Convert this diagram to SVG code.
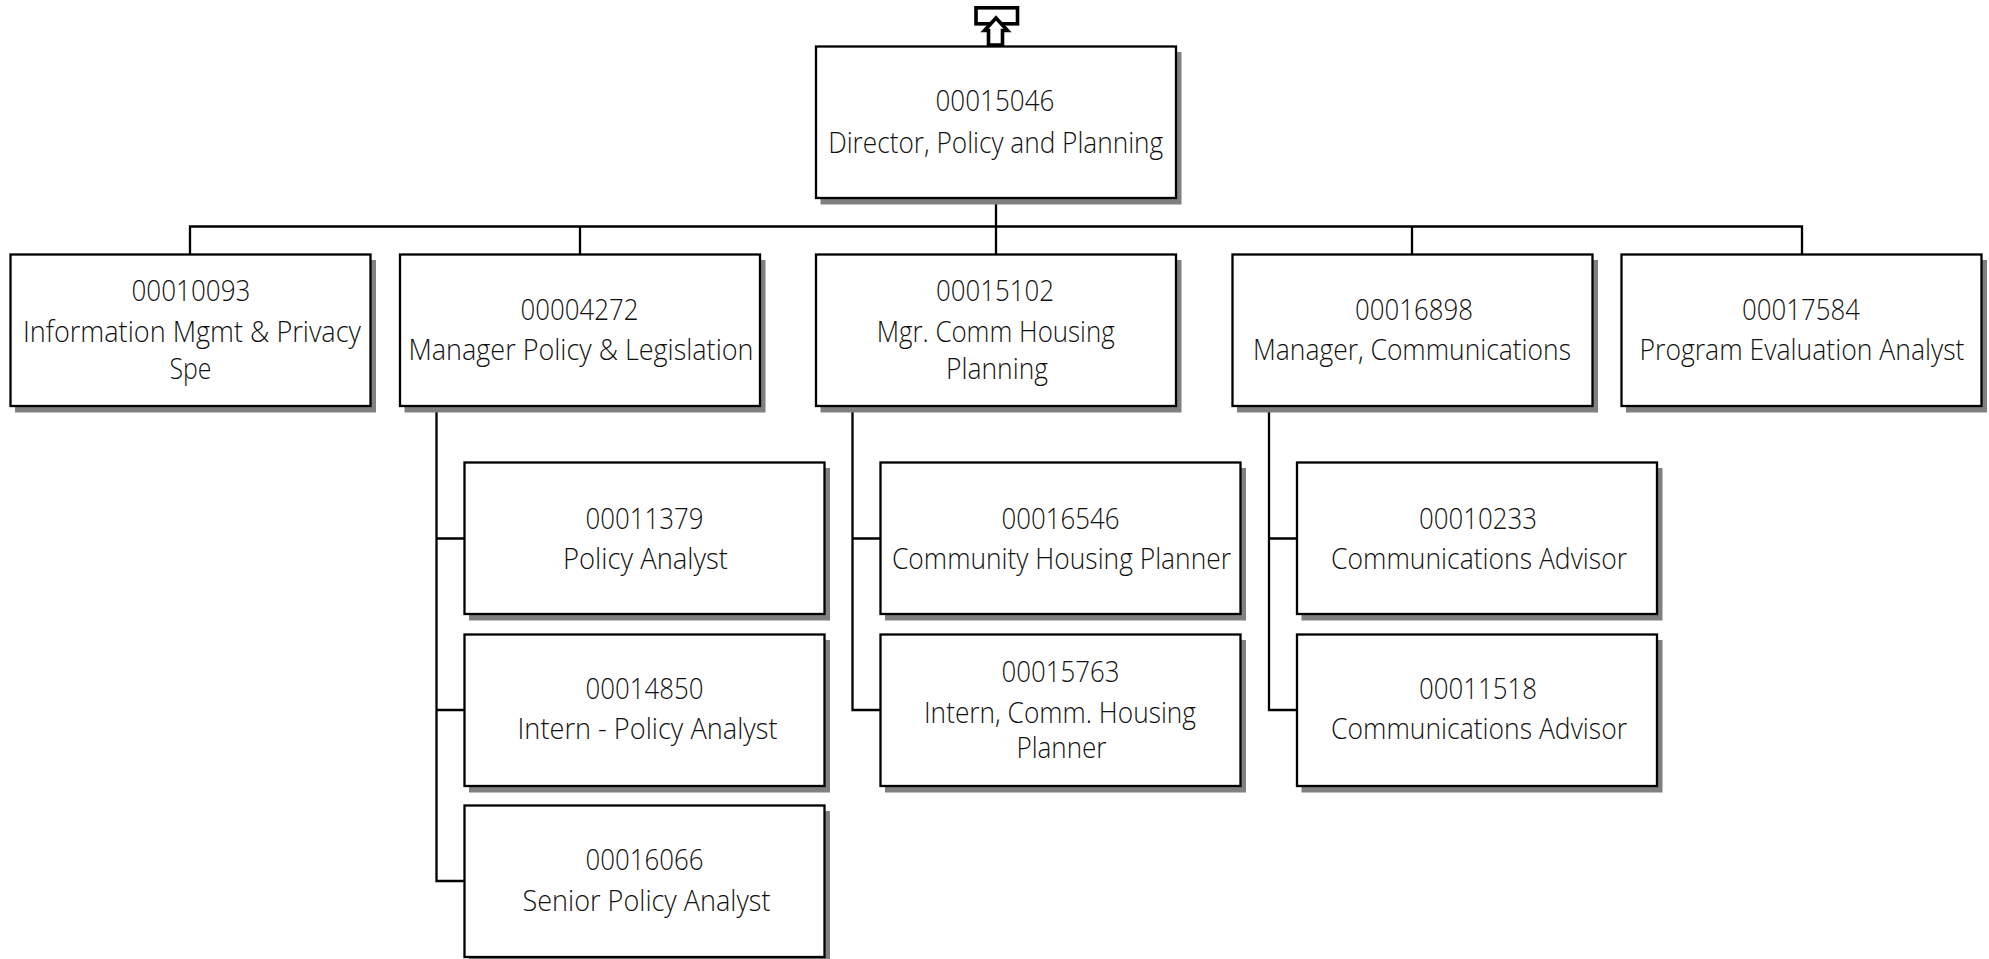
<svg xmlns="http://www.w3.org/2000/svg" width="1989" height="959" viewBox="0 0 1989 959">
<style>
.s{fill:#808080}
.b{fill:#fff;stroke:#000;stroke-width:2.300}
.c{fill:none;stroke:#000;stroke-width:2.300}
text{font-family:"Open Sans","Noto Sans","Liberation Sans",sans-serif;font-weight:300;font-size:30px;fill:#111;text-anchor:middle}
</style>
<defs>
<g id="box"><rect class="s" x="5" y="6" width="361" height="152.500"/><rect class="b" x="0.500" y="0.500" width="360" height="151.500"/></g>
</defs>
<rect width="1989" height="959" fill="#fff"/>
<g id="connectors">
<path class="c" d="M996 198V254M190 254V226.500H1802V254M580 226.500V254M1412 226.500V254"/>
<path class="c" d="M436.500 406V881H464M436.500 538.500H464M436.500 710H464"/>
<path class="c" d="M852.500 406V710H880M852.500 538.500H880"/>
<path class="c" d="M1269 406V710H1296M1269 538.500H1296"/>
</g>
<g id="up-link">
<rect x="976" y="7.800" width="41.500" height="16" fill="#fff" stroke="#000" stroke-width="3.600"/>
<path d="M996 18L1007.500 30.500H1002.500V45H988.500V30.500H984.500Z" fill="#fff" stroke="#000" stroke-width="3.600"/>
</g>
<g id="n00015046"><use href="#box" x="815.500" y="46"/><text x="995" y="111" textLength="119" lengthAdjust="spacingAndGlyphs">00015046</text><text x="995.700" y="153" textLength="335" lengthAdjust="spacingAndGlyphs">Director, Policy and Planning</text></g>
<g id="n00010093"><use href="#box" x="10" y="254"/><text x="191" y="301" textLength="119" lengthAdjust="spacingAndGlyphs">00010093</text><text x="192" y="342" textLength="338" lengthAdjust="spacingAndGlyphs">Information Mgmt &amp; Privacy</text><text x="190.500" y="378.500" textLength="42" lengthAdjust="spacingAndGlyphs">Spe</text></g>
<g id="n00004272"><use href="#box" x="399.500" y="254"/><text x="579.600" y="320" textLength="118" lengthAdjust="spacingAndGlyphs">00004272</text><text x="581" y="360" textLength="345" lengthAdjust="spacingAndGlyphs">Manager Policy &amp; Legislation</text></g>
<g id="n00015102"><use href="#box" x="815.500" y="254"/><text x="995" y="301" textLength="118" lengthAdjust="spacingAndGlyphs">00015102</text><text x="995.700" y="342" textLength="238" lengthAdjust="spacingAndGlyphs">Mgr. Comm Housing</text><text x="997" y="379" textLength="102" lengthAdjust="spacingAndGlyphs">Planning</text></g>
<g id="n00016898"><use href="#box" x="1232" y="254"/><text x="1414" y="320" textLength="118" lengthAdjust="spacingAndGlyphs">00016898</text><text x="1412" y="360" textLength="318" lengthAdjust="spacingAndGlyphs">Manager, Communications</text></g>
<g id="n00017584"><use href="#box" x="1621" y="254"/><text x="1801" y="320" textLength="118" lengthAdjust="spacingAndGlyphs">00017584</text><text x="1802" y="360" textLength="325" lengthAdjust="spacingAndGlyphs">Program Evaluation Analyst</text></g>
<g id="n00011379"><use href="#box" x="464" y="462"/><text x="644.500" y="529" textLength="118" lengthAdjust="spacingAndGlyphs">00011379</text><text x="645.500" y="569" textLength="165" lengthAdjust="spacingAndGlyphs">Policy Analyst</text></g>
<g id="n00014850"><use href="#box" x="464" y="634"/><text x="644.500" y="699" textLength="118" lengthAdjust="spacingAndGlyphs">00014850</text><text x="647.500" y="739" textLength="260" lengthAdjust="spacingAndGlyphs">Intern - Policy Analyst</text></g>
<g id="n00016066"><use href="#box" x="464" y="805"/><text x="644.500" y="870" textLength="118" lengthAdjust="spacingAndGlyphs">00016066</text><text x="646.500" y="910.500" textLength="248" lengthAdjust="spacingAndGlyphs">Senior Policy Analyst</text></g>
<g id="n00016546"><use href="#box" x="880" y="462"/><text x="1060.500" y="529" textLength="118" lengthAdjust="spacingAndGlyphs">00016546</text><text x="1061.500" y="569" textLength="339" lengthAdjust="spacingAndGlyphs">Community Housing Planner</text></g>
<g id="n00015763"><use href="#box" x="880" y="634"/><text x="1060.500" y="682" textLength="118" lengthAdjust="spacingAndGlyphs">00015763</text><text x="1060" y="723" textLength="272" lengthAdjust="spacingAndGlyphs">Intern, Comm. Housing</text><text x="1061.500" y="758" textLength="90" lengthAdjust="spacingAndGlyphs">Planner</text></g>
<g id="n00010233"><use href="#box" x="1296.500" y="462"/><text x="1478" y="529" textLength="118" lengthAdjust="spacingAndGlyphs">00010233</text><text x="1479" y="569" textLength="296" lengthAdjust="spacingAndGlyphs">Communications Advisor</text></g>
<g id="n00011518"><use href="#box" x="1296.500" y="634"/><text x="1478" y="699" textLength="118" lengthAdjust="spacingAndGlyphs">00011518</text><text x="1479" y="739" textLength="296" lengthAdjust="spacingAndGlyphs">Communications Advisor</text></g>
</svg>
